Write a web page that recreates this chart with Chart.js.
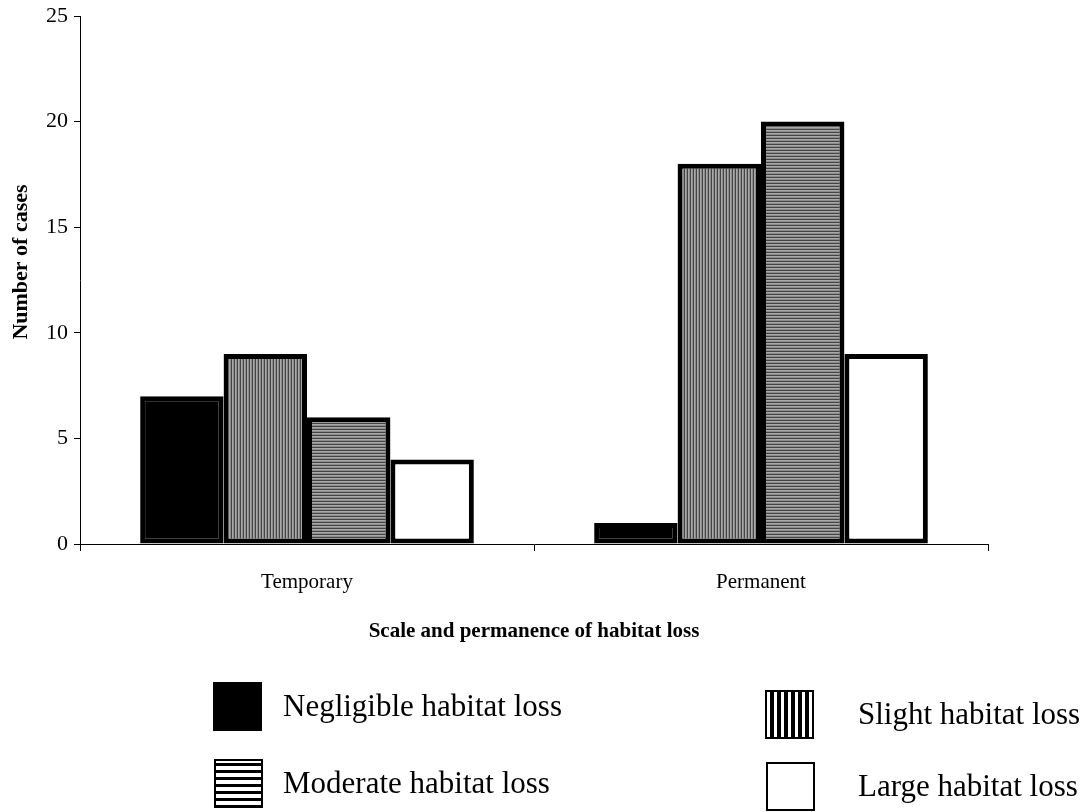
<!DOCTYPE html>
<html>
<head>
<meta charset="utf-8">
<script src="https://cdn.jsdelivr.net/npm/chart.js@4/dist/chart.umd.min.js"></script>
<style>
  html, body { margin: 0; padding: 0; background: #fff; }
  #wrap { width: 1091px; height: 812px; position: relative; }
</style>
</head>
<body>
<div id="wrap"><canvas id="chart"></canvas></div>
<script>
const CATEGORIES = ['Temporary', 'Permanent'];
const SERIES_NAMES = ['Negligible habitat loss', 'Slight habitat loss', 'Moderate habitat loss', 'Large habitat loss'];
const NEGLIGIBLE = [7, 1];
const SLIGHT = [9, 18];
const MODERATE = [6, 20];
const LARGE = [4, 9];
const Y_TICKS = [0, 5, 10, 15, 20, 25];
const Y_TITLE = 'Number of cases';

const SERIF = '"Liberation Serif", "Times New Roman", serif';

// small stripe tiles used as fills
function stripes(dir, cols) {
  const c = document.createElement('canvas');
  const n = cols.length;
  c.width = dir === 'v' ? n : 1;
  c.height = dir === 'v' ? 1 : n;
  const g = c.getContext('2d');
  cols.forEach((col, i) => {
    g.fillStyle = col;
    if (dir === 'v') g.fillRect(i, 0, 1, 1); else g.fillRect(0, i, 1, 1);
  });
  return g.createPattern(c, 'repeat');
}
const ctx = document.getElementById('chart').getContext('2d');
const vBar = stripes('v', ['#444', '#a8a8a8', '#8c8c8c']);
const hBar = stripes('h', ['#444', '#a8a8a8', '#8c8c8c']);
const vLeg = stripes('v', ['#000', '#000', '#000', '#000', '#fff', '#fff', '#fff']);
const hLeg = stripes('h', ['#000', '#000', '#000', '#fff', '#fff', '#fff', '#fff']);

const FILLS = ['#000', vBar, hBar, '#fff'];
const LEGEND_FILLS = ['#000', vLeg, hLeg, '#fff'];

// legend drawn as two columns under the plot, plus the y title (sits a bit above centre)
const legendPlugin = {
  id: 'sideLegend',
  afterDraw(chart) {
    const g = chart.ctx;
    const slots = [[213, 682, 283], [765, 690, 858], [214, 759, 283], [766, 762, 858]];
    g.save();
    chart.data.datasets.forEach((ds, i) => {
      const [x, y, tx] = slots[i];
      g.fillStyle = LEGEND_FILLS[i];
      g.fillRect(x, y, 49, 49);
      g.lineWidth = 2;
      g.strokeStyle = '#000';
      g.strokeRect(x + 1, y + 1, 47, 47);
      g.fillStyle = '#000';
      g.font = '31px ' + SERIF;
      g.textBaseline = 'middle';
      g.fillText(ds.label, tx, y + 26);
    });
    g.translate(21, 262);
    g.rotate(-Math.PI / 2);
    g.font = 'bold 22px ' + SERIF;
    g.textAlign = 'center';
    g.textBaseline = 'middle';
    g.fillText(Y_TITLE, 0, 0);
    g.restore();
  }
};

new Chart(ctx, {
  type: 'bar',
  data: {
    labels: CATEGORIES,
    datasets: [NEGLIGIBLE, SLIGHT, MODERATE, LARGE].map((d, i) => ({
      label: SERIES_NAMES[i],
      data: d,
      backgroundColor: FILLS[i],
      borderColor: '#000',
      borderWidth: 5,
      borderSkipped: false,
      barPercentage: 1,
      categoryPercentage: 0.735,
    }))
  },
  options: {
    responsive: true,
    maintainAspectRatio: false,
    animation: false,
    layout: { padding: { left: 0, top: 16, right: 103, bottom: 168 } },
    plugins: { legend: { display: false }, tooltip: { enabled: false } },
    scales: {
      x: {
        grid: { display: true, drawOnChartArea: false, offset: true, color: '#000', tickLength: 7 },
        border: { color: '#000', width: 1 },
        ticks: { color: '#000', font: { family: SERIF, size: 21 }, padding: 19 },
        title: { display: true, text: 'Scale and permanence of habitat loss', color: '#000',
                 font: { family: SERIF, size: 21, weight: 'bold' }, padding: 0 },
        afterFit(s) { s.height = 100; }
      },
      y: {
        min: 0, max: 25,
        afterBuildTicks(s) { s.ticks = Y_TICKS.map(v => ({ value: v })); },
        grid: { display: true, drawOnChartArea: false, color: '#000', tickLength: 6 },
        border: { color: '#000', width: 1 },
        ticks: { color: '#000', font: { family: SERIF, size: 22 }, padding: 6 },
        afterFit(s) { s.width = 80; s.paddingTop = 0; s.paddingBottom = 0; }
      }
    }
  },
  plugins: [legendPlugin]
});
</script>
</body>
</html>
